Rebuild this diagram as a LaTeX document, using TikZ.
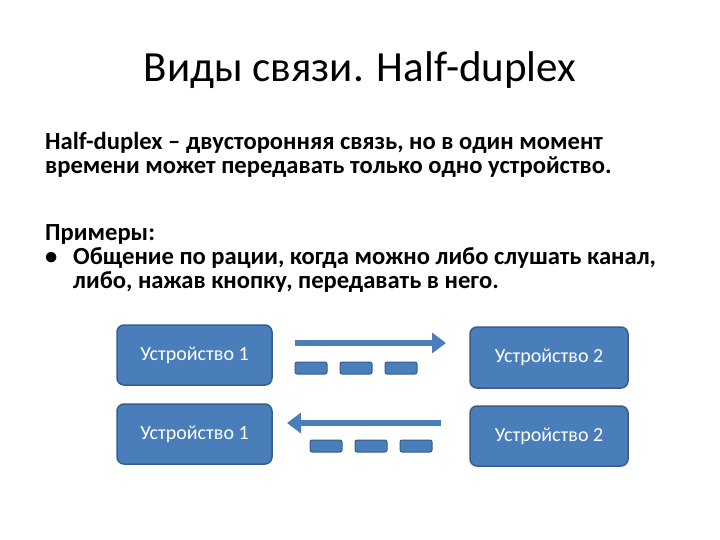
\documentclass[tikz,border=0pt]{standalone}
\usepackage{fontspec}
\setmainfont{Carlito}
\usetikzlibrary{arrows.meta}
\definecolor{bfill}{HTML}{4A7EBB}
\definecolor{bdraw}{HTML}{385D8A}
\begin{document}
\begin{tikzpicture}[x=1pt,y=-1pt,
  dev/.style={draw=bdraw,fill=bfill,line width=1.5pt,rounded corners=7pt,text=white,font=\fontsize{20}{22}\selectfont},
  dsh/.style={draw=bdraw,fill=bfill,line width=1pt,rounded corners=2pt},
  arr/.style={draw=bfill,line width=6pt,-{Triangle[length=14pt,width=20pt]}},
  txt/.style={anchor=west,inner sep=0pt,font=\bfseries\fontsize{24.6}{28}\selectfont}]
\useasboundingbox (0,0) rectangle (720,540);
\node (title) at (360,70) {\fontsize{43}{48}\selectfont Виды связи. Half-duplex};
\node[txt] (l1) at (45,143) {Half-duplex – двусторонняя связь, но в один момент};
\node[txt] (l2) at (45,167) {времени может передавать только одно устройство.};
\node[txt] (l3) at (45,234) {Примеры:};
\node[txt] (l4) at (45,258) {•};
\node[txt] (l5) at (73,258) {Общение по рации, когда можно либо слушать канал,};
\node[txt] (l6) at (73,282) {либо, нажав кнопку, передавать в него.};
\node[dev,minimum width=155pt,minimum height=60pt] (d1) at (194.5,355) {Устройство 1};
\node[dev,minimum width=158pt,minimum height=61pt] (d2) at (549,357.5) {Устройство 2};
\node[dev,minimum width=155pt,minimum height=60pt] (d3) at (194.5,434) {Устройство 1};
\node[dev,minimum width=158pt,minimum height=60pt] (d4) at (549,436) {Устройство 2};
\coordinate (a1s) at (295,343); \coordinate (a1e) at (446,343);
\coordinate (a2s) at (441,423); \coordinate (a2e) at (287,423);
\draw[arr] (a1s) -- (a1e);
\draw[arr] (a2s) -- (a2e);
\foreach \x in {295,340,385} \path[dsh] (\x,362) rectangle ++(32,12);
\foreach \x in {310,355,400} \path[dsh] (\x,440) rectangle ++(32,12);
\end{tikzpicture}
\end{document}
